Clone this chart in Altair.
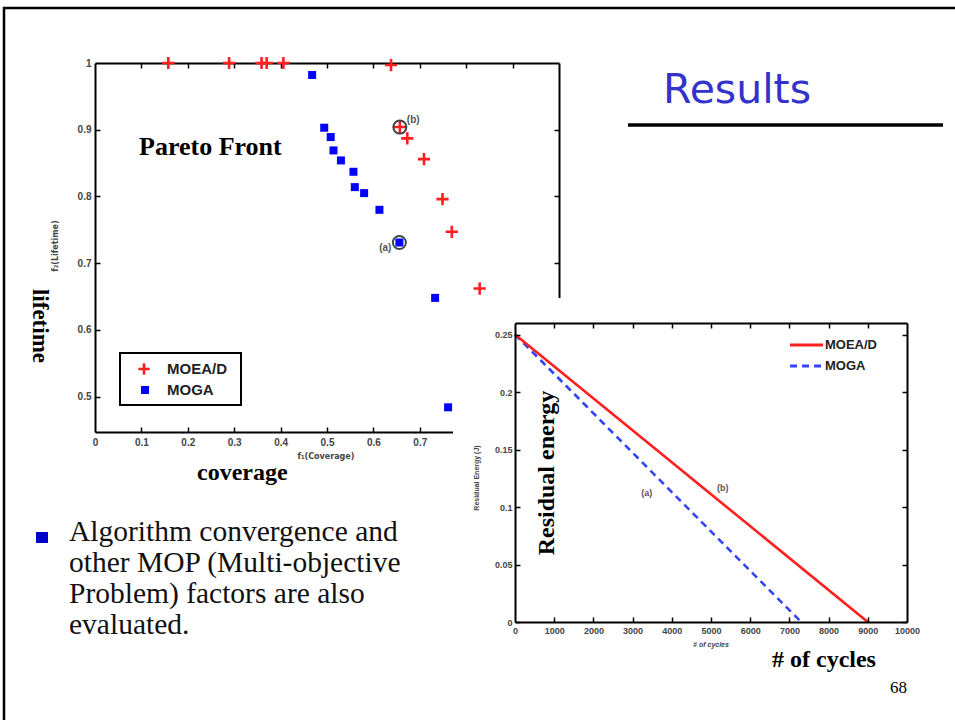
import altair as alt
import pandas as pd

W, H = 955, 720

# ---------------- data ----------------
series = ["MOEA/D", "MOGA"]

moead_cov = [0.158, 0.289, 0.359, 0.370, 0.406, 0.638, 0.657, 0.673, 0.709, 0.749, 0.769, 0.829]
moead_life = [1.0, 1.0, 1.0, 1.0, 1.0, 0.997, 0.904, 0.887, 0.856, 0.796, 0.747, 0.662]
moga_cov = [0.468, 0.494, 0.508, 0.514, 0.530, 0.557, 0.560, 0.580, 0.613, 0.656, 0.733, 0.761]
moga_life = [0.982, 0.903, 0.889, 0.869, 0.854, 0.837, 0.814, 0.805, 0.780, 0.731, 0.648, 0.484]

marked_cov = [0.656, 0.657]
marked_life = [0.731, 0.904]
marked_tag = ["(a)", "(b)"]

moead_cycles = [0, 9000]
moead_energy = [0.25, 0.0]
moga_cycles = [0, 7300]
moga_energy = [0.25, 0.0]

tagB_cycles = [3360, 5300]
tagB_energy = [0.112, 0.1165]
tagB_text = ["(a)", "(b)"]

# tick labels visible in the picture (0.8 .. 1 are hidden behind the inset)
cov_labels = [0, 0.1, 0.2, 0.3, 0.4, 0.5, 0.6, 0.7]
cov_inner = [0.1, 0.2, 0.3, 0.4, 0.5, 0.6, 0.7, 0.8, 0.9]
life_ticks = [0.5, 0.6, 0.7, 0.8, 0.9, 1.0]
life_inner = [0.5, 0.6, 0.7, 0.8, 0.9]
cyc_ticks = [0, 1000, 2000, 3000, 4000, 5000, 6000, 7000, 8000, 9000, 10000]
cyc_inner = [1000, 2000, 3000, 4000, 5000, 6000, 7000, 8000, 9000]
en_ticks = [0, 0.05, 0.1, 0.15, 0.2, 0.25]

TITLE = "Results"
BULLET = "Algorithm convergence and\nother MOP (Multi-objective\nProblem) factors are also\nevaluated."
PAGE = "68"
PARETO = "Pareto Front"
LIFETIME = "lifetime"
COVERAGE = "coverage"
F1 = "f\u2081(Coverage)"
F2 = "f\u2082(Lifetime)"
RES_BIG = "Residual energy"
RES_SMALL = "Residual Energy (J)"
CYC_BIG = "# of cycles"
CYC_SMALL = "# of cycles"

RED = "#ff1f1f"
BLUE = "#0000ff"
BLUE_LINE = "#3344ff"
CROSS = "M-1,0L1,0M0,-1L0,1"

# ---------------- scales (pixel placement of the two plots) ----------------
XA = alt.Scale(domain=[0, 1], range=[95, 559], nice=False, zero=False)
YA = alt.Scale(domain=[0.447, 1], range=[432, 63], nice=False, zero=False)
XB = alt.Scale(domain=[0, 10000], range=[515, 907], nice=False, zero=False)
YB = alt.Scale(domain=[0, 0.26], range=[622, 323], nice=False, zero=False)

dfA = pd.DataFrame({"cov": moead_cov + moga_cov,
                    "life": moead_life + moga_life,
                    "s": [series[0]] * len(moead_cov) + [series[1]] * len(moga_cov)})
df_moead = pd.DataFrame({"cov": moead_cov, "life": moead_life})
df_moga = pd.DataFrame({"cov": moga_cov, "life": moga_life})
df_mark = pd.DataFrame({"cov": marked_cov, "life": marked_life, "t": marked_tag})
dfB_moead = pd.DataFrame({"cyc": moead_cycles, "en": moead_energy})
dfB_moga = pd.DataFrame({"cyc": moga_cycles, "en": moga_energy})
dfB_tag = pd.DataFrame({"cyc": tagB_cycles, "en": tagB_energy, "t": tagB_text})


def ax(orient, offset, values, labels=False, ticks=True, domain=False, size=9, fmt="~g", pad=3, z=0):
    return alt.Axis(orient=orient, offset=offset, values=values, grid=False, title=None,
                    labels=labels, ticks=ticks, domain=domain,
                    domainColor="black", domainWidth=2, tickColor="black", tickWidth=1.5,
                    tickSize=5, labelFont="Liberation Sans", labelFontSize=size,
                    labelFontWeight="bold", labelColor="#444", labelPadding=pad,
                    labelFlush=False, labelOverlap=False, format=fmt, zindex=z)


def axis_layer(df, xf, yf, xs, ys, xaxis, yaxis):
    return alt.Chart(df).mark_point(opacity=0).encode(
        x=alt.X(xf, type="quantitative", scale=xs, axis=xaxis),
        y=alt.Y(yf, type="quantitative", scale=ys, axis=yaxis))


def txt(s, x, y, size, font="Liberation Serif", weight="normal", color="black",
        align="left", angle=0, baseline="alphabetic", style="normal", **extra):
    mk = dict(font=font, fontSize=size, fontWeight=weight, color=color, align=align,
              baseline=baseline, **extra)
    if angle:
        mk["angle"] = angle
    if style != "normal":
        mk["fontStyle"] = style
    return alt.Chart(pd.DataFrame({"t": [s]})).mark_text(**mk).encode(
        x=alt.value(x), y=alt.value(y), text="t:N")


one = pd.DataFrame({"k": [0]})
layers = []

# slide frame
layers.append(alt.Chart(one).mark_rect(fillOpacity=0, stroke="black", strokeWidth=2.5).encode(
    x=alt.value(4), x2=alt.value(975), y=alt.value(8), y2=alt.value(740)))

# ---------------- left plot: Pareto front ----------------
layers.append(axis_layer(dfA, "cov", "life", XA, YA,
                         ax("bottom", 432 - H, cov_labels, labels=True, ticks=False, domain=True, size=10, pad=5),
                         ax("left", -95, life_ticks, labels=True, ticks=False, domain=True, size=10, pad=4)))
layers.append(axis_layer(dfA, "cov", "life", XA, YA,
                         ax("top", -432, cov_inner),
                         ax("right", 95 - W, life_inner)))
layers.append(axis_layer(dfA, "cov", "life", XA, YA,
                         ax("bottom", 63 - H, cov_inner, domain=True),
                         ax("left", -559, life_inner, domain=True)))

layers.append(alt.Chart(df_moga).mark_point(shape="square", filled=True, size=64, color=BLUE, opacity=1).encode(
    x=alt.X("cov:Q", scale=XA, axis=None), y=alt.Y("life:Q", scale=YA, axis=None)))
layers.append(alt.Chart(df_moead).mark_point(shape=CROSS, filled=False, size=150, strokeWidth=2.6,
                                             color=RED, opacity=1).encode(
    x=alt.X("cov:Q", scale=XA, axis=None), y=alt.Y("life:Q", scale=YA, axis=None)))
layers.append(alt.Chart(df_mark).mark_point(shape="circle", filled=False, size=170, strokeWidth=2,
                                            color="#333", opacity=0.9).encode(
    x=alt.X("cov:Q", scale=XA, axis=None), y=alt.Y("life:Q", scale=YA, axis=None)))
layers.append(alt.Chart(df_mark.iloc[[0]]).mark_text(font="Liberation Sans", fontSize=10, fontWeight="bold",
                                                     color="#555", align="right", dx=-8, dy=6).encode(
    x=alt.X("cov:Q", scale=XA, axis=None), y=alt.Y("life:Q", scale=YA, axis=None), text="t:N"))
layers.append(alt.Chart(df_mark.iloc[[1]]).mark_text(font="Liberation Sans", fontSize=10, fontWeight="bold",
                                                     color="#555", align="left", dx=7, dy=-7).encode(
    x=alt.X("cov:Q", scale=XA, axis=None), y=alt.Y("life:Q", scale=YA, axis=None), text="t:N"))

# left legend
layers.append(alt.Chart(one).mark_rect(color="white", stroke="black", strokeWidth=2).encode(
    x=alt.value(120), x2=alt.value(241), y=alt.value(353), y2=alt.value(405)))
layers.append(alt.Chart(one).mark_point(shape=CROSS, filled=False, size=130, strokeWidth=2.6,
                                        color=RED, opacity=1).encode(x=alt.value(144), y=alt.value(369)))
layers.append(alt.Chart(one).mark_point(shape="square", filled=True, size=64, color=BLUE,
                                        opacity=1).encode(x=alt.value(145), y=alt.value(390)))
layers.append(txt(series[0], 167, 369, 15, font="Liberation Sans", weight="bold", color="#222", baseline="middle"))
layers.append(txt(series[1], 167, 390, 15, font="Liberation Sans", weight="bold", color="#222", baseline="middle"))

# left texts
layers.append(txt(PARETO, 139, 155, 26, weight="bold"))
layers.append(txt(LIFETIME, 40, 326, 23, weight="bold", align="center", angle=90, baseline="middle"))
layers.append(txt(COVERAGE, 197, 480, 24, weight="bold"))
layers.append(txt(F1, 326, 457, 8, font="DejaVu Sans", weight="bold", color="#444", align="center", baseline="middle"))
layers.append(txt(F2, 56, 246, 8, font="DejaVu Sans", weight="bold", color="#444", align="center",
                  angle=270, baseline="middle"))

# white mask of the inset
layers.append(alt.Chart(one).mark_rect(color="white").encode(
    x=alt.value(453), x2=alt.value(945), y=alt.value(298), y2=alt.value(700)))

# ---------------- right plot: residual energy ----------------
layers.append(axis_layer(dfB_moead, "cyc", "en", XB, YB,
                         ax("bottom", 622 - H, cyc_ticks, labels=True, ticks=False, domain=True, size=9, fmt="d", pad=4, z=1),
                         ax("left", -515, en_ticks, labels=True, ticks=False, domain=True, size=9, pad=3, z=1)))
layers.append(axis_layer(dfB_moead, "cyc", "en", XB, YB,
                         ax("top", -622, cyc_inner, z=1),
                         ax("right", 515 - W, en_ticks, z=1)))
layers.append(axis_layer(dfB_moead, "cyc", "en", XB, YB,
                         ax("bottom", 323 - H, cyc_inner, domain=True, z=1),
                         ax("left", -907, en_ticks, domain=True, z=1)))

layers.append(alt.Chart(dfB_moga).mark_line(color=BLUE_LINE, strokeWidth=2.6, strokeDash=[7, 5]).encode(
    x=alt.X("cyc:Q", scale=XB, axis=None), y=alt.Y("en:Q", scale=YB, axis=None)))
layers.append(alt.Chart(dfB_moead).mark_line(color=RED, strokeWidth=2.6).encode(
    x=alt.X("cyc:Q", scale=XB, axis=None), y=alt.Y("en:Q", scale=YB, axis=None)))
layers.append(alt.Chart(dfB_tag).mark_text(font="Liberation Sans", fontSize=9, fontWeight="bold",
                                           color="#555").encode(
    x=alt.X("cyc:Q", scale=XB, axis=None), y=alt.Y("en:Q", scale=YB, axis=None), text="t:N"))

# right legend
layers.append(alt.Chart(one).mark_rule(color=RED, strokeWidth=3).encode(
    x=alt.value(790), x2=alt.value(823), y=alt.value(345)))
layers.append(alt.Chart(one).mark_rule(color=BLUE_LINE, strokeWidth=3, strokeDash=[7, 5]).encode(
    x=alt.value(790), x2=alt.value(823), y=alt.value(366)))
layers.append(txt(series[0], 825, 345, 13, font="Liberation Sans", weight="bold", color="#222", baseline="middle"))
layers.append(txt(series[1], 825, 366, 13, font="Liberation Sans", weight="bold", color="#222", baseline="middle"))

# right texts
layers.append(txt(RES_BIG, 547, 473, 24, weight="bold", align="center", angle=270, baseline="middle"))
layers.append(txt(RES_SMALL, 477, 478, 7, font="Liberation Sans", weight="bold", color="#444",
                  align="center", angle=270, baseline="middle"))
layers.append(txt(CYC_BIG, 772, 667, 24, weight="bold"))
layers.append(txt(CYC_SMALL, 711, 645, 7, font="Liberation Sans", weight="bold", color="#444",
                  align="center", baseline="middle", style="italic"))

# ---------------- slide texts ----------------
layers.append(txt(TITLE, 663, 103, 41, font="DejaVu Sans", color="#3333cc"))
layers.append(alt.Chart(one).mark_rule(color="black", strokeWidth=3.5).encode(
    x=alt.value(628), x2=alt.value(943), y=alt.value(125)))
layers.append(alt.Chart(one).mark_rect(color="#0000cc").encode(
    x=alt.value(36), x2=alt.value(48), y=alt.value(532), y2=alt.value(543)))
layers.append(txt(BULLET, 69, 541, 29.5, color="#111", lineBreak="\n", lineHeight=31))
layers.append(txt(PAGE, 907, 693, 17, align="right"))

chart = alt.layer(*layers).resolve_scale(x="independent", y="independent").properties(
    width=W, height=H, padding=0, autosize=alt.AutoSizeParams(type="none")
).configure_view(stroke=None)

chart.save("out.html", embed_options={"renderer": "svg", "actions": False})
